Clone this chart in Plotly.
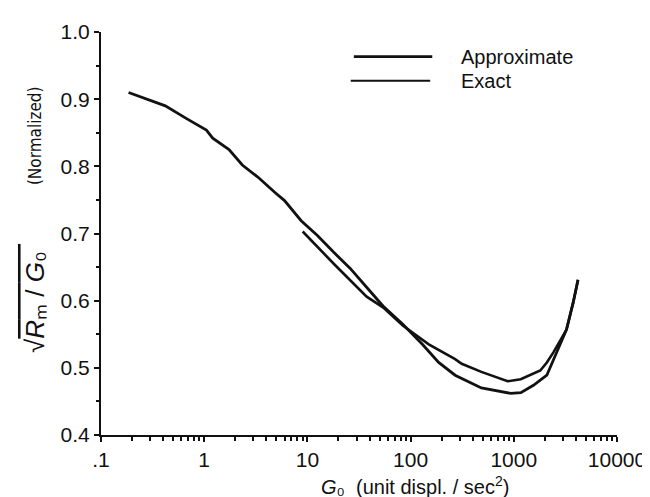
import plotly.graph_objects as go

# ---- data ----
approx_x = [0.185, 0.42, 0.675, 1.05, 1.21, 1.74, 2.34, 3.37, 4.85, 6.0, 8.7, 12.5, 18, 26, 40.5,
            54, 84, 130, 187, 270, 485, 935, 1170, 1550, 2090, 2600, 3240, 3760, 4190]
approx_y = [0.910, 0.890, 0.871, 0.854, 0.842, 0.825, 0.802, 0.783, 0.761, 0.749, 0.719, 0.697, 0.672, 0.648, 0.614,
            0.592, 0.565, 0.535, 0.508, 0.489, 0.470, 0.462, 0.463, 0.474, 0.489, 0.523, 0.557, 0.597, 0.631]

exact_x = [9.0, 18, 37.5, 54, 84, 150, 270, 313, 485, 871, 1167, 1807, 2090, 2420, 3240, 3760, 4190]
exact_y = [0.703, 0.655, 0.606, 0.590, 0.563, 0.535, 0.513, 0.506, 0.494, 0.480, 0.483, 0.496, 0.508, 0.523,
           0.557, 0.597, 0.631]

x_tickvals = [0.1, 1, 10, 100, 1000, 10000]
x_ticktext = [".1", "1", "10", "100", "1000", "10000"]
x_minor = [m * d for d in [0.1, 1, 10, 100, 1000] for m in range(2, 10)]

legend_names = ["Approximate", "Exact"]

FONT = "Liberation Sans, Arial, Helvetica, sans-serif"
NARROW = "Liberation Sans Narrow, DejaVu Sans Condensed, Liberation Sans, sans-serif"
INK = "#111111"
FS = 21

fig = go.Figure()
fig.add_trace(go.Scatter(x=approx_x, y=approx_y, mode="lines", name=legend_names[0],
                         line=dict(color=INK, width=2.8), showlegend=False))
fig.add_trace(go.Scatter(x=exact_x, y=exact_y, mode="lines", name=legend_names[1],
                         line=dict(color=INK, width=2.6), showlegend=False))

# manual legend (long line samples as in the reference)
leg_rows = [(0.939, 0.490, 0.642, 2.6), (0.879, 0.484, 0.638, 2.0)]
for (yy, x0, x1, w), name in zip(leg_rows, legend_names):
    fig.add_shape(type="line", xref="paper", yref="paper", x0=x0, x1=x1, y0=yy, y1=yy,
                  line=dict(color=INK, width=w))
    fig.add_annotation(xref="paper", yref="paper", x=0.693, y=yy, text=name, showarrow=False,
                       xanchor="left", yanchor="middle", font=dict(size=20, color=INK, family=FONT))

# axis titles
fig.add_annotation(xref="paper", yref="paper", x=0.608, y=-0.126,
                   text="<i>G</i>₀  (unit displ. / sec<sup>2</sup>)",
                   showarrow=False, xanchor="center", yanchor="middle",
                   font=dict(size=20, color=INK, family=FONT))
fig.add_annotation(xref="paper", yref="paper", x=-0.128, y=0.34,
                   text="√<span style='text-decoration:overline'><i>R</i>ₘ / <i>G</i>₀ </span>",
                   textangle=-90, showarrow=False, xanchor="center", yanchor="middle",
                   font=dict(size=26, color=INK, family=FONT))
fig.add_annotation(xref="paper", yref="paper", x=-0.128, y=0.744,
                   text="(Normalized)",
                   textangle=-90, showarrow=False, xanchor="center", yanchor="middle",
                   font=dict(size=17, color=INK, family=NARROW))

fig.update_layout(
    width=650, height=497,
    margin=dict(l=93, r=32, t=15, b=70),
    paper_bgcolor="white", plot_bgcolor="white",
    font=dict(family=FONT, size=FS, color=INK),
)
fig.update_xaxes(type="log", range=[-1, 4], tickmode="array", tickvals=x_tickvals, ticktext=x_ticktext,
                 showline=True, linecolor=INK, linewidth=2, ticks="outside", ticklen=5, tickwidth=1.5,
                 tickcolor=INK, showgrid=False, zeroline=False,
                 minor=dict(tickmode="array", tickvals=x_minor, ticks="outside", ticklen=4, tickwidth=1.5,
                            tickcolor=INK, showgrid=False),
                 tickfont=dict(size=FS, family=FONT, color=INK))
fig.update_yaxes(range=[0.4, 1.0], tick0=0.4, dtick=0.1, tickformat=".1f",
                 showline=True, linecolor=INK, linewidth=2, ticks="outside", ticklen=5, tickwidth=1.5,
                 tickcolor=INK, showgrid=False, zeroline=False,
                 minor=dict(dtick=0.05, ticks="outside", ticklen=3, tickwidth=1.5, tickcolor=INK,
                            showgrid=False),
                 tickfont=dict(size=FS, family=FONT, color=INK))

fig.write_html("out.html")
